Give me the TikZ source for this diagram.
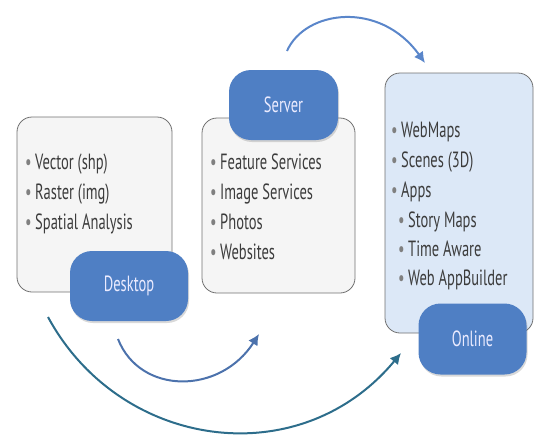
\documentclass[tikz,border=0pt]{standalone}
\usepackage{fontspec}
\setmainfont[FakeStretch=0.66]{PT Sans}
\usetikzlibrary{arrows.meta,shadows}
\definecolor{pillblue}{HTML}{4F7FC4}
\definecolor{arrblue}{HTML}{5A86CA}
\definecolor{arrteal}{HTML}{2D6D8B}
\definecolor{boxedge}{HTML}{707070}
\definecolor{boxgrey}{HTML}{F5F5F5}
\definecolor{boxlight}{HTML}{DCE8F7}
\definecolor{txtgrey}{HTML}{3C3C3C}
\newcommand{\bul}{\makebox[10pt][l]{\color{gray}\textbullet}}
\tikzset{
  listbox/.style={draw=boxedge, line width=0.8pt, rounded corners=15pt},
  pill/.style={fill=pillblue, rounded corners=22pt, text=white!92!blue,
    font=\fontsize{22}{26}\selectfont,
    drop shadow={opacity=0.3,shadow xshift=1pt,shadow yshift=-2pt}},
  item/.style={anchor=base west, inner sep=0pt, text=txtgrey,
    font=\fontsize{22}{26}\selectfont},
  flow/.style={line width=2pt, -{Latex[length=11pt,width=11pt]}},
}
\begin{document}
\begin{tikzpicture}[x=1pt,y=-1pt]
    \useasboundingbox (0,0) rectangle (535,437);
    % boxes
    \node[listbox, fill=boxgrey, minimum width=155pt, minimum height=175pt] (desk) at (94.5,204.5) {};
    \node[listbox, fill=boxgrey, minimum width=153pt, minimum height=175pt] (serv) at (278.5,205.5) {};
    \node[listbox, fill=boxlight, minimum width=148pt, minimum height=260pt] (onl) at (459,203) {};
    %
    \node[item] (d1) at (25,169) {\bul Vector (shp)};
    \node[item] (d2) at (25,199) {\bul Raster (img)};
    \node[item] (d3) at (25,229) {\bul Spatial Analysis};
    %
    \node[item] (s1) at (210,169) {\bul Feature Services};
    \node[item] (s2) at (210,199) {\bul Image Services};
    \node[item] (s3) at (210,229) {\bul Photos};
    \node[item] (s4) at (210,259) {\bul Websites};
    %
    \node[item] (o1) at (391,137) {\bul WebMaps};
    \node[item] (o2) at (391,167) {\bul Scenes (3D)};
    \node[item] (o3) at (391,197) {\bul Apps};
    \node[item] (o4) at (398,227) {\bul Story Maps};
    \node[item] (o5) at (398,256) {\bul Time Aware};
    \node[item] (o6) at (398,285) {\bul Web AppBuilder};
    % labels
    \node[pill, minimum width=118pt, minimum height=70pt] (deskpill) at (129,286) {Desktop};
    \node[pill, minimum width=109pt, minimum height=70pt] (servpill) at (283.5,105) {Server};
    \node[pill, minimum width=108pt, minimum height=71pt] (onlpill) at (472.5,339) {Online};
    % arrows
    \coordinate (topstart) at (287,51);
    \coordinate (topend) at (425,63);
    \coordinate (midstart) at (118,339);
    \coordinate (midend) at (259,334);
    \coordinate (longstart) at (48,317);
    \coordinate (longend) at (401,353);
    \draw[flow, draw=arrblue] (topstart) .. controls (305,10) and (380,0) .. (topend);
    \draw[flow, draw=arrblue!85!black] (midstart) .. controls (140,395) and (220,395) .. (midend);
    \draw[flow, draw=arrteal] (longstart) .. controls (120,450) and (300,475) .. (longend);
  \end{tikzpicture}
\end{document}
